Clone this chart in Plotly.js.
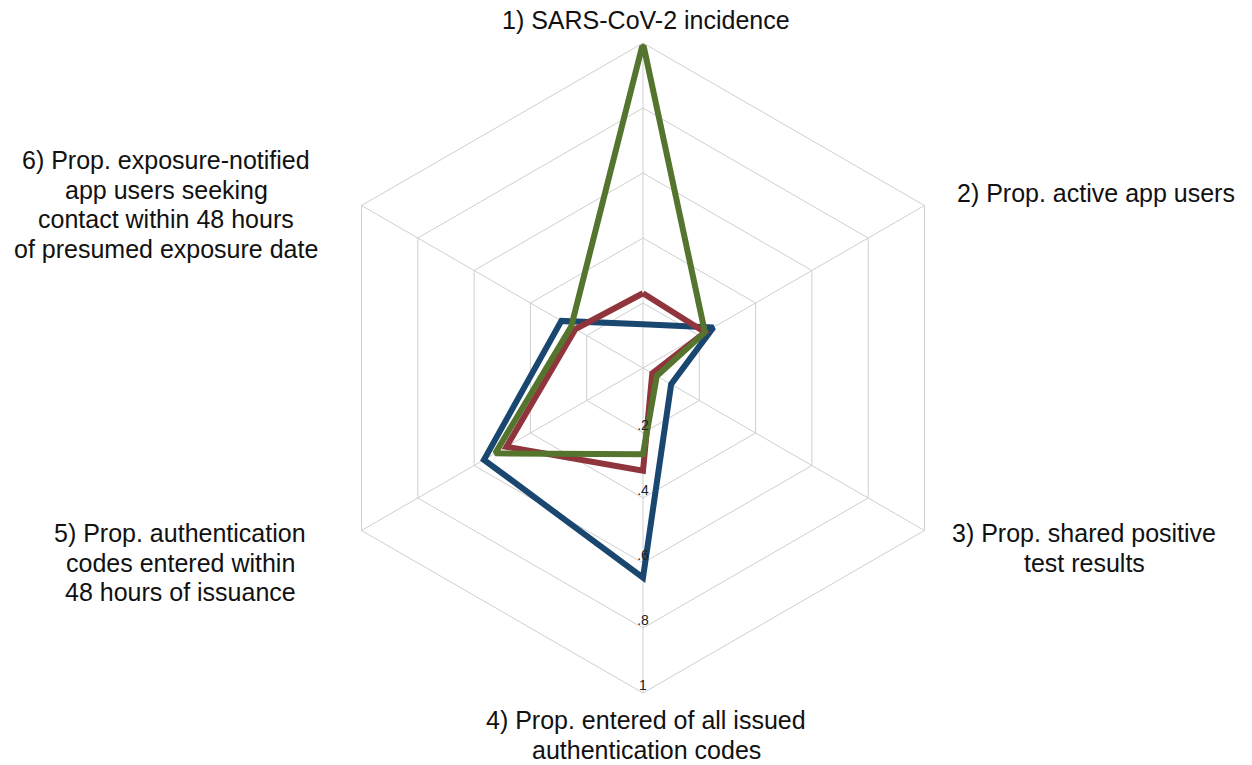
<!DOCTYPE html>
<html>
<head>
<meta charset="utf-8">
<script src="https://cdn.plot.ly/plotly-3.0.1.min.js"></script>
<style>html,body{margin:0;padding:0;background:#fff;}#chart{width:1252px;height:765px;}</style>
</head>
<body>
<div id="chart"></div>
<script>
// ---- data ----
var categories = ["1", "2", "3", "4", "5", "6"];
var labelLines = [
  ["1) SARS-CoV-2 incidence"],
  ["2) Prop. active app users"],
  ["3) Prop. shared positive", "test results"],
  ["4) Prop. entered of all issued", "authentication codes"],
  ["5) Prop. authentication", "codes entered within", "48 hours of issuance"],
  ["6) Prop. exposure-notified", "app users seeking", "contact within 48 hours", "of presumed exposure date"]
];
var seriesBlue  = [0.135, 0.25, 0.10, 0.645, 0.565, 0.29];
var seriesRed   = [0.23, 0.22, 0.033, 0.316, 0.485, 0.24];
var seriesGreen = [1.0, 0.22, 0.049, 0.265, 0.525, 0.255];
var tickVals = [0.2, 0.4, 0.6, 0.8, 1];
var tickText = [".2", ".4", ".6", ".8", "1"];

// ---- layout constants ----
var W = 1252, H = 765;
var FONT = "Liberation Sans, Arial, Helvetica, sans-serif";
// label anchors: [x(px), first-line center y(px), xanchor]
var labelPos = [
  [646, 20, "center"],
  [955, 193, "left"],
  [1084, 533, "center"],
  [646, 720, "center"],
  [180, 533, "center"],
  [166, 160, "center"]
];
var lineGap = 29.7;

function closeLoop(a) { return a.concat([a[0]]); }

function lineTrace(vals, color, name) {
  return {
    type: "scatterpolar",
    mode: "lines",
    name: name,
    r: closeLoop(vals),
    theta: closeLoop(categories),
    line: {color: color, width: 6},
    hoverinfo: "skip",
    showlegend: false
  };
}

var traces = [
  lineTrace(seriesBlue, "#1a476f", "Series A"),
  lineTrace(seriesRed, "#90353b", "Series B"),
  lineTrace(seriesGreen, "#55752f", "Series C"),
  {
    type: "scatterpolar",
    mode: "text",
    r: tickVals,
    theta: tickVals.map(function () { return categories[3]; }),
    text: tickText,
    textposition: "top center",
    textfont: {family: FONT, size: 14, color: "#222222"},
    hoverinfo: "skip",
    showlegend: false,
    cliponaxis: false
  }
];

var annotations = [];
labelLines.forEach(function (lines, i) {
  var p = labelPos[i];
  lines.forEach(function (t, j) {
    annotations.push({
      xref: "paper", yref: "paper",
      x: p[0] / W, y: 1 - (p[1] + j * lineGap) / H,
      xanchor: p[2], yanchor: "middle",
      text: t, showarrow: false,
      font: {family: FONT, size: 25, color: "#111111"}
    });
  });
});

var cx = 643, cy = 368, R = 325;
var layout = {
  width: W, height: H,
  margin: {l: 0, r: 0, t: 0, b: 0},
  paper_bgcolor: "#ffffff",
  plot_bgcolor: "#ffffff",
  showlegend: false,
  polar: {
    domain: {x: [(cx - R) / W, (cx + R) / W], y: [1 - (cy + R) / H, 1 - (cy - R) / H]},
    gridshape: "linear",
    bgcolor: "#ffffff",
    radialaxis: {
      range: [0, 1],
      tickvals: tickVals,
      showticklabels: false,
      ticks: "",
      showline: false,
      gridcolor: "#cfcfcf",
      gridwidth: 1,
      angle: -90
    },
    angularaxis: {
      type: "category",
      categoryorder: "array",
      categoryarray: categories,
      rotation: 90,
      direction: "clockwise",
      showticklabels: false,
      ticks: "",
      showline: true,
      linecolor: "#cfcfcf",
      linewidth: 1,
      gridcolor: "#cfcfcf",
      gridwidth: 1
    }
  },
  annotations: annotations
};

Plotly.newPlot("chart", traces, layout, {displayModeBar: false, staticPlot: true});
</script>
</body>
</html>
